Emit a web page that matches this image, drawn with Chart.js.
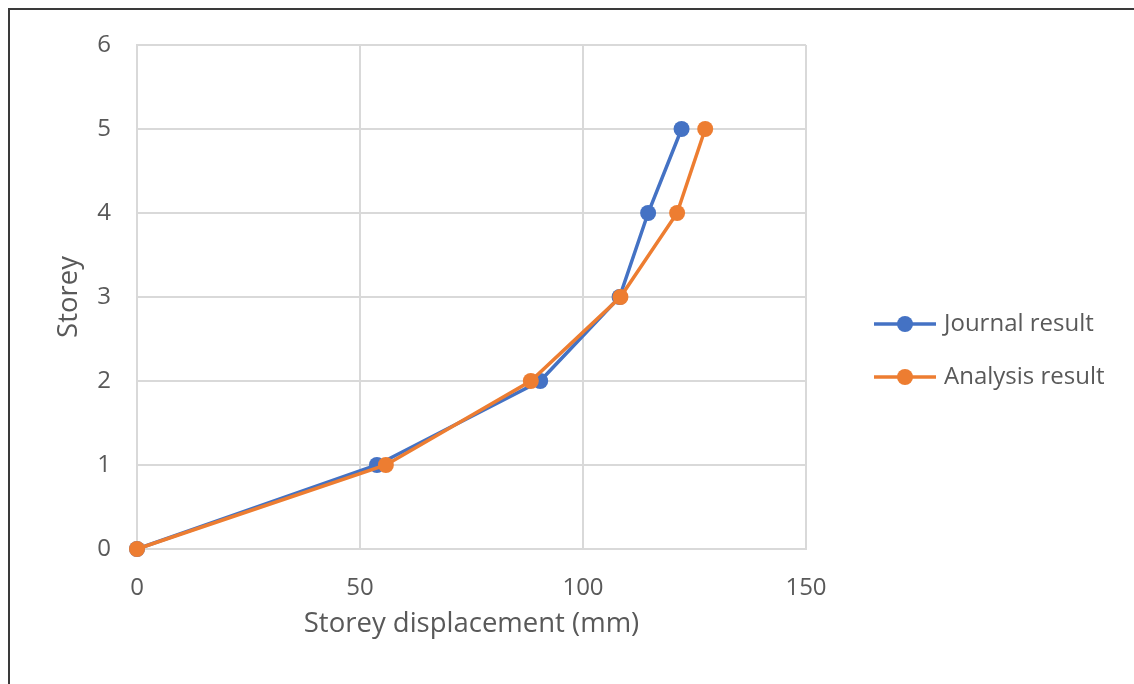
<!DOCTYPE html>
<html>
<head>
<meta charset="utf-8">
<script src="https://cdn.jsdelivr.net/npm/chart.js@4"></script>
<style>
  html, body { margin: 0; padding: 0; background: #fff; }
  #wrap { position: relative; width: 1134px; height: 684px; }
  #frame { position: absolute; left: 8px; top: 8px; right: 0; bottom: 0;
           border-left: 2px solid #3a3a3a; border-top: 2px solid #3a3a3a; pointer-events: none; }
  canvas { position: absolute; left: 0; top: 0; }
</style>
</head>
<body>
<div id="wrap">
  <canvas id="c" width="1134" height="684"></canvas>
  <div id="frame"></div>
</div>
<script>
// Storey levels and lateral displacements (mm)
const storeys = [0, 1, 2, 3, 4, 5];
const journalDisp = [0, 53.8, 90.4, 108.2, 114.6, 122.1];
const analysisDisp = [0, 55.8, 88.3, 108.4, 121.1, 127.4];
const seriesNames = ['Journal result', 'Analysis result'];
const xTicks = [0, 50, 100, 150];
const yTicks = [0, 1, 2, 3, 4, 5, 6];

const FONT = 'Open Sans, sans-serif';
const TEXT = '#595959';
const GRID = '#d9d9d9';
const BLUE = '#4472C4';
const ORANGE = '#ED7D31';

const toPoints = (xs) => xs.map((x, i) => ({ x: x, y: storeys[i] }));

// Legend drawn to the right of the plot: line with a dot marker, then the name
const sideLegend = {
  id: 'sideLegend',
  afterDraw(chart) {
    const ctx = chart.ctx;
    const rows = [chart.data.datasets[0], chart.data.datasets[1]];
    ctx.save();
    rows.forEach((ds, i) => {
      const y = 324 + i * 53;
      ctx.strokeStyle = ds.borderColor;
      ctx.lineWidth = 3.5;
      ctx.beginPath();
      ctx.moveTo(874, y);
      ctx.lineTo(936, y);
      ctx.stroke();
      ctx.fillStyle = ds.backgroundColor;
      ctx.beginPath();
      ctx.arc(905, y, 8, 0, Math.PI * 2);
      ctx.fill();
      ctx.fillStyle = TEXT;
      ctx.font = '24px ' + FONT;
      ctx.textBaseline = 'middle';
      ctx.textAlign = 'left';
      ctx.fillText(ds.label, 944, y);
    });
    ctx.restore();
  }
};

new Chart(document.getElementById('c'), {
  type: 'line',
  data: {
    datasets: [
      {
        label: seriesNames[0],
        data: toPoints(journalDisp),
        borderColor: BLUE, backgroundColor: BLUE,
        pointBackgroundColor: BLUE, pointBorderColor: BLUE,
        borderWidth: 3.5, pointRadius: 8, pointBorderWidth: 0, tension: 0, order: 2, clip: false
      },
      {
        label: seriesNames[1],
        data: toPoints(analysisDisp),
        borderColor: ORANGE, backgroundColor: ORANGE,
        pointBackgroundColor: ORANGE, pointBorderColor: ORANGE,
        borderWidth: 3.5, pointRadius: 8, pointBorderWidth: 0, tension: 0, order: 1, clip: false
      }
    ]
  },
  options: {
    responsive: false,
    animation: false,
    layout: { padding: { left: 0, top: 45, right: 328, bottom: 0 } },
    plugins: { legend: { display: false }, tooltip: { enabled: false } },
    scales: {
      x: {
        type: 'linear', min: 0, max: 150,
        afterBuildTicks(s) { s.ticks = xTicks.map(v => ({ value: v })); },
        afterFit(s) { s.height = 135; },
        grid: { color: GRID, lineWidth: 2, drawTicks: false },
        border: { color: GRID, width: 2 },
        ticks: { color: TEXT, font: { family: FONT, size: 24 }, padding: 25 },
        title: { display: true, text: 'Storey displacement (mm)', color: TEXT,
                 font: { family: FONT, size: 27.5 }, padding: { top: 4, bottom: 43 } }
      },
      y: {
        type: 'linear', min: 0, max: 6,
        afterBuildTicks(s) { s.ticks = yTicks.map(v => ({ value: v })); },
        afterFit(s) { s.width = 137; },
        grid: { color: GRID, lineWidth: 2, drawTicks: false },
        border: { color: GRID, width: 2 },
        ticks: { color: TEXT, font: { family: FONT, size: 24 }, padding: 26 },
        title: { display: true, text: 'Storey', color: TEXT,
                 font: { family: FONT, size: 27.5 }, padding: { top: 53, bottom: 4 } }
      }
    }
  },
  plugins: [sideLegend]
});
</script>
</body>
</html>
